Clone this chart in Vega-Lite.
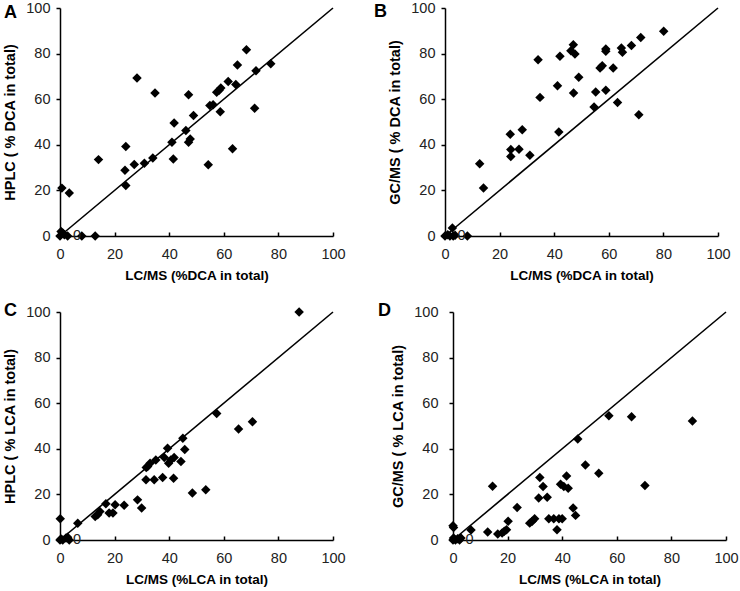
{
  "$schema": "https://vega.github.io/schema/vega-lite/v6.json",
  "padding": {"left": 2, "top": 0, "right": 2, "bottom": 1},
  "background": "white",
  "config": {
    "view": {"stroke": null},
    "axis": {"grid": false, "domainColor": "#000", "domainWidth": 1.5, "tickColor": "#000", "tickWidth": 1.5, "labelFont": "Liberation Sans", "labelFontSize": 14.5, "labelColor": "#222", "labelFlush": false, "labelOverlap": false, "titleFont": "Liberation Sans", "titleFontWeight": "bold", "titleColor": "#000", "titleFontSize": 13.5},
    "axisX": {"tickSize": -4, "labelPadding": 15, "titlePadding": 8},
    "axisY": {"tickSize": 4, "labelPadding": 6, "titlePadding": 8, "titleFontSize": 14.5},
    "title": {"font": "Liberation Sans", "fontSize": 18, "fontWeight": "bold", "color": "#000", "anchor": "start", "frame": "group", "baseline": "middle", "align": "left", "offset": 0}
  },
  "datasets": {
    "A": [
      {"x": 0, "y": 0}, {"x": 0.4, "y": 2}, {"x": 1, "y": 1.3}, {"x": 1.6, "y": 0.6}, {"x": 2.8, "y": 0},
      {"x": 0.7, "y": 21}, {"x": 3.4, "y": 18.9}, {"x": 8.0, "y": 0}, {"x": 12.9, "y": 0},
      {"x": 14.1, "y": 33.5}, {"x": 23.8, "y": 28.8}, {"x": 24.1, "y": 39.3}, {"x": 24.1, "y": 22.1},
      {"x": 27.2, "y": 31.4}, {"x": 28.2, "y": 69.3}, {"x": 30.9, "y": 31.9}, {"x": 34.0, "y": 34.2},
      {"x": 34.8, "y": 62.7}, {"x": 41.0, "y": 41.1}, {"x": 41.5, "y": 33.8}, {"x": 41.8, "y": 49.6},
      {"x": 46.1, "y": 46.3}, {"x": 47.1, "y": 62.0}, {"x": 47.1, "y": 41.1}, {"x": 47.7, "y": 42.5},
      {"x": 48.9, "y": 52.8}, {"x": 54.3, "y": 31.3}, {"x": 54.9, "y": 57.2}, {"x": 56.1, "y": 57.6},
      {"x": 57.4, "y": 63.0}, {"x": 58.3, "y": 63.9}, {"x": 58.9, "y": 64.9}, {"x": 58.7, "y": 54.5},
      {"x": 61.6, "y": 67.8}, {"x": 63.2, "y": 38.3}, {"x": 64.4, "y": 66.4}, {"x": 65.0, "y": 75.0},
      {"x": 68.3, "y": 81.7}, {"x": 71.3, "y": 56.0}, {"x": 71.8, "y": 72.5}, {"x": 77.2, "y": 75.6}
    ],
    "B": [
      {"x": 0, "y": 0}, {"x": 1.0, "y": 0.6}, {"x": 1.8, "y": 0}, {"x": 2.7, "y": 3.5}, {"x": 3.0, "y": 0}, {"x": 3.7, "y": 0.3},
      {"x": 8.2, "y": 0}, {"x": 12.7, "y": 31.7}, {"x": 14.1, "y": 21.1}, {"x": 23.9, "y": 44.6},
      {"x": 24.1, "y": 37.9}, {"x": 24.1, "y": 34.9}, {"x": 27.1, "y": 38.0}, {"x": 28.3, "y": 46.6},
      {"x": 31.1, "y": 35.4}, {"x": 34.1, "y": 77.3}, {"x": 34.8, "y": 60.8}, {"x": 41.2, "y": 65.9},
      {"x": 41.7, "y": 45.6}, {"x": 42.1, "y": 78.8}, {"x": 46.1, "y": 81.3}, {"x": 47.0, "y": 83.9},
      {"x": 47.6, "y": 79.8}, {"x": 47.1, "y": 62.7}, {"x": 49.0, "y": 69.6}, {"x": 55.2, "y": 63.2},
      {"x": 54.6, "y": 56.6}, {"x": 56.8, "y": 73.7}, {"x": 57.6, "y": 74.7}, {"x": 58.9, "y": 82.0},
      {"x": 58.9, "y": 81.0}, {"x": 58.9, "y": 63.9}, {"x": 61.6, "y": 73.7}, {"x": 63.2, "y": 58.6},
      {"x": 64.6, "y": 82.5}, {"x": 65.0, "y": 80.6}, {"x": 68.3, "y": 83.6}, {"x": 71.0, "y": 53.2},
      {"x": 71.7, "y": 87.1}, {"x": 80.1, "y": 89.8}
    ],
    "C": [
      {"x": 0, "y": 0}, {"x": 0.4, "y": 0.4}, {"x": 1, "y": 0}, {"x": 2.2, "y": 0.9}, {"x": 2.8, "y": 1.2}, {"x": 3.4, "y": 0},
      {"x": 0.1, "y": 9.3}, {"x": 6.5, "y": 7.3}, {"x": 12.9, "y": 10.3}, {"x": 13.8, "y": 11.1},
      {"x": 14.6, "y": 12.5}, {"x": 16.8, "y": 15.9}, {"x": 18.0, "y": 11.8}, {"x": 19.4, "y": 11.8},
      {"x": 20.2, "y": 15.5}, {"x": 23.5, "y": 15.2}, {"x": 28.4, "y": 17.6}, {"x": 29.9, "y": 14.0},
      {"x": 31.6, "y": 31.8}, {"x": 32.1, "y": 32.2}, {"x": 31.5, "y": 26.4}, {"x": 33.0, "y": 33.7},
      {"x": 34.5, "y": 26.4}, {"x": 35.1, "y": 35.1}, {"x": 37.6, "y": 27.4}, {"x": 38.2, "y": 36.2},
      {"x": 39.4, "y": 40.2}, {"x": 39.8, "y": 33.7}, {"x": 40.6, "y": 35.1}, {"x": 41.8, "y": 36.2},
      {"x": 41.6, "y": 27.1}, {"x": 44.3, "y": 34.4}, {"x": 45.0, "y": 44.6}, {"x": 45.7, "y": 39.7},
      {"x": 48.5, "y": 20.6}, {"x": 53.4, "y": 22.0}, {"x": 57.4, "y": 55.5}, {"x": 65.4, "y": 48.7},
      {"x": 70.5, "y": 51.9}, {"x": 87.6, "y": 100}
    ],
    "D": [
      {"x": 0, "y": 0}, {"x": 0.2, "y": 0.9}, {"x": 0.9, "y": 0}, {"x": 1.7, "y": 0.6}, {"x": 2.4, "y": 0}, {"x": 2.9, "y": 0.9},
      {"x": 0, "y": 6.3}, {"x": 0.2, "y": 5.5}, {"x": 6.6, "y": 4.4}, {"x": 12.7, "y": 3.5},
      {"x": 14.5, "y": 23.6}, {"x": 16.4, "y": 2.6}, {"x": 18.0, "y": 3.1}, {"x": 18.8, "y": 3.8},
      {"x": 19.6, "y": 4.5}, {"x": 20.2, "y": 8.2}, {"x": 23.5, "y": 14.3}, {"x": 28.1, "y": 7.4},
      {"x": 29.0, "y": 8.2}, {"x": 29.9, "y": 9.3}, {"x": 31.8, "y": 27.4}, {"x": 31.4, "y": 18.4},
      {"x": 33.0, "y": 23.5}, {"x": 34.5, "y": 18.7}, {"x": 35.1, "y": 9.3}, {"x": 36.9, "y": 9.3},
      {"x": 38.1, "y": 4.5}, {"x": 38.8, "y": 9.3}, {"x": 39.4, "y": 24.5}, {"x": 40.0, "y": 9.3},
      {"x": 40.6, "y": 23.5}, {"x": 41.6, "y": 28.1}, {"x": 42.2, "y": 22.7}, {"x": 44.0, "y": 14.0},
      {"x": 44.9, "y": 10.8}, {"x": 45.7, "y": 44.3}, {"x": 48.5, "y": 32.9}, {"x": 53.4, "y": 29.3},
      {"x": 57.1, "y": 54.5}, {"x": 65.4, "y": 54.1}, {"x": 70.3, "y": 23.9}, {"x": 87.7, "y": 52.2}
    ],
    "diag": [{"x": 0, "y": 0}, {"x": 100, "y": 100}]
  },
  "spacing": 20,
  "vconcat": [
    {
      "spacing": 28,
      "hconcat": [
        {
          "width": 273, "height": 228,
          "title": {"text": "A", "dx": -56, "dy": 26},
          "encoding": {
            "x": {"field": "x", "type": "quantitative", "scale": {"domain": [0, 100], "nice": false}, "axis": {"title": "LC/MS (%DCA in total)", "values": [0, 20, 40, 60, 80, 100]}},
            "y": {"field": "y", "type": "quantitative", "scale": {"domain": [0, 100], "nice": false}, "axis": {"title": "HPLC ( % DCA in total)", "values": [0, 20, 40, 60, 80, 100]}}
          },
          "layer": [
            {"data": {"name": "diag"}, "mark": {"type": "line", "color": "#000", "strokeWidth": 1.6}},
            {"data": {"name": "A"}, "mark": {"type": "point", "shape": "diamond", "filled": true, "color": "#000", "opacity": 1, "size": 90}},
            {"data": {"values": [{"x": 6.2, "y": 0, "t": "0"}]}, "mark": {"type": "text", "font": "Liberation Sans", "fontSize": 14.5, "color": "#222"}, "encoding": {"text": {"field": "t"}}}
          ]
        },
        {
          "width": 273, "height": 228,
          "title": {"text": "B", "dx": -71, "dy": 25},
          "encoding": {
            "x": {"field": "x", "type": "quantitative", "scale": {"domain": [0, 100], "nice": false}, "axis": {"title": "LC/MS (%DCA in total)", "values": [0, 20, 40, 60, 80, 100]}},
            "y": {"field": "y", "type": "quantitative", "scale": {"domain": [0, 100], "nice": false}, "axis": {"title": "GC/MS ( % DCA in total)", "values": [0, 20, 40, 60, 80, 100]}}
          },
          "layer": [
            {"data": {"name": "diag"}, "mark": {"type": "line", "color": "#000", "strokeWidth": 1.6}},
            {"data": {"name": "B"}, "mark": {"type": "point", "shape": "diamond", "filled": true, "color": "#000", "opacity": 1, "size": 90}},
            {"data": {"values": [{"x": 6.1, "y": 0, "t": "0"}]}, "mark": {"type": "text", "font": "Liberation Sans", "fontSize": 14.5, "color": "#222"}, "encoding": {"text": {"field": "t"}}}
          ]
        }
      ]
    },
    {
      "spacing": 32,
      "hconcat": [
        {
          "width": 273, "height": 228,
          "title": {"text": "C", "dx": -56, "dy": 20},
          "encoding": {
            "x": {"field": "x", "type": "quantitative", "scale": {"domain": [0, 100], "nice": false}, "axis": {"title": "LC/MS (%LCA in total)", "values": [0, 20, 40, 60, 80, 100]}},
            "y": {"field": "y", "type": "quantitative", "scale": {"domain": [0, 100], "nice": false}, "axis": {"title": "HPLC ( % LCA in total)", "values": [0, 20, 40, 60, 80, 100]}}
          },
          "layer": [
            {"data": {"name": "diag"}, "mark": {"type": "line", "color": "#000", "strokeWidth": 1.6}},
            {"data": {"name": "C"}, "mark": {"type": "point", "shape": "diamond", "filled": true, "color": "#000", "opacity": 1, "size": 90}},
            {"data": {"values": [{"x": 6.2, "y": 0, "t": "0"}]}, "mark": {"type": "text", "font": "Liberation Sans", "fontSize": 14.5, "color": "#222"}, "encoding": {"text": {"field": "t"}}}
          ]
        },
        {
          "width": 273, "height": 228,
          "title": {"text": "D", "dx": -75, "dy": 20},
          "encoding": {
            "x": {"field": "x", "type": "quantitative", "scale": {"domain": [0, 100], "nice": false}, "axis": {"title": "LC/MS (%LCA in total)", "values": [0, 20, 40, 60, 80, 100]}},
            "y": {"field": "y", "type": "quantitative", "scale": {"domain": [0, 100], "nice": false}, "axis": {"title": "GC/MS ( % LCA in total)", "values": [0, 20, 40, 60, 80, 100], "labelPadding": 11}}
          },
          "layer": [
            {"data": {"name": "diag"}, "mark": {"type": "line", "color": "#000", "strokeWidth": 1.6}},
            {"data": {"name": "D"}, "mark": {"type": "point", "shape": "diamond", "filled": true, "color": "#000", "opacity": 1, "size": 90}},
            {"data": {"values": [{"x": 6.1, "y": 0, "t": "0"}]}, "mark": {"type": "text", "font": "Liberation Sans", "fontSize": 14.5, "color": "#222"}, "encoding": {"text": {"field": "t"}}}
          ]
        }
      ]
    }
  ]
}
